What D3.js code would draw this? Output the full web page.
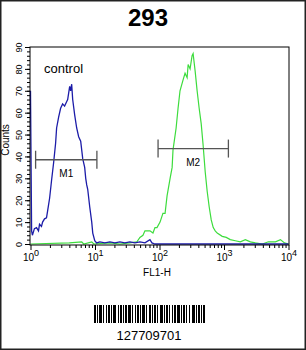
<!DOCTYPE html>
<html>
<head>
<meta charset="utf-8">
<script src="https://cdn.jsdelivr.net/npm/d3@7"></script>
<style>
  body { margin: 0; background: #fff; }
  svg { display: block; font-family: "Liberation Sans", Arial, sans-serif; }
</style>
</head>
<body>
<svg id="chart" width="306" height="350"></svg>
<script>
// FL1-H values and counts
const controlFl1 = [1.0, 1.04, 1.07, 1.15, 1.24, 1.33, 1.38, 1.48, 1.54, 1.65, 1.77, 1.84, 1.98, 2.12, 2.28, 2.45, 2.54, 2.73, 2.93, 3.15, 3.38, 3.63, 3.77, 4.05, 4.19, 4.35, 4.51, 4.84, 5.2, 5.58, 6.0, 6.45, 6.92, 7.18, 7.44, 7.71, 8.28, 8.9, 9.23, 9.91, 10.6, 11.9, 14.2, 17.0, 20.3, 24.3, 29.0, 34.7, 41.6, 49.7, 59.5, 71.1, 76.4, 85.1, 102, 146, 427, 2563, 10000];
const controlCounts = [70, 6, 4, 7, 7.5, 6, 9, 8, 10, 11.5, 12, 15, 21, 29, 37, 46, 53, 58, 62, 64, 63, 65, 66, 72, 70, 73, 66, 59, 53, 49, 47, 39, 35, 30, 27, 25, 17, 10, 5, 1.5, 0.5, 1, 0.5, 1, 0.5, 1, 0.5, 1, 0.5, 1, 0.5, 2, 0.5, 0, 0, 0, 0, 0, 0];

const sampleFl1 = [1.0, 4.0, 6.22, 6.68, 8.9, 9.56, 17.0, 24.3, 34.7, 44.7, 49.7, 55.4, 59.5, 66.2, 71.1, 79.2, 85.1, 91.4, 102, 113, 122, 131, 146, 157, 162, 181, 194, 208, 232, 249, 268, 278, 298, 320, 332, 357, 383, 412, 443, 475, 511, 549, 589, 634, 681, 731, 785, 939, 1084, 1251, 1497, 1791, 2143, 2563, 3065, 3939, 4883, 6281, 7505, 8660, 10000];
const sampleCounts = [0, 0.5, 1, 0, 1, 0, 0.5, 0, 0.5, 1, 3, 4, 6, 6, 6, 5, 7.5, 7.5, 10, 14, 14, 22, 30, 35, 43, 53, 62, 70, 75, 78, 76, 82, 80, 86, 87, 79, 70, 62, 55, 45, 33, 24, 17, 11, 7.5, 6, 5, 3.5, 3, 2, 1.5, 1, 2, 1, 0.5, 0, 1, 1, 2, 0.5, 0];

const yTicks = [0, 10, 20, 30, 40, 50, 60, 70, 80, 90];
const xTicks = [1, 10, 100, 1000, 10000];

// marker gates: [from, to, level]
const gateM1 = [1.2, 10.7, 38.5];
const gateM2 = [95, 1170, 43.6];

// barcode: alternating bar / gap widths in px
const barcodeWidths = [2,1,1,1,3,1,1,2,1,1,2,1,1,1,3,2,1,1,2,1,1,1,2,1,3,1,1,2,1,1,2,1,1,1,3,1,1,2,2,1,1,1,2,1,1,2,3,1,1,1,2,1,1,2,1,1,2,1,3,1,1,1,2,1,1,2,1,2,3,1,1,1,2,1,1,1,2];

const svg = d3.select('#chart');

svg.append('rect')
    .attr('x', 0.75).attr('y', 0.75)
    .attr('width', 304.5).attr('height', 348.5)
    .attr('fill', 'none')
    .attr('stroke', '#222')
    .attr('stroke-width', 1.5);

svg.append('text')
    .attr('x', 148).attr('y', 26)
    .attr('text-anchor', 'middle')
    .attr('font-size', 24)
    .attr('font-weight', 'bold')
    .text('293');

const plot = {left: 30, right: 289, top: 47, bottom: 245};

const x = d3.scaleLog().domain([1, 10000]).range([30.5, 288.5]);
const y = d3.scaleLinear().domain([0, 90]).range([244, 47]);

// x axis, major and minor ticks
const minorX = [];
for (let d = 1; d < 10000; d *= 10) {
  for (let k = 2; k < 10; k++) minorX.push(d * k);
}

svg.append('g')
    .attr('transform', 'translate(0,' + plot.bottom + ')')
    .call(d3.axisBottom(x).tickValues(minorX).tickSize(3).tickFormat(''))
    .call(g => g.select('.domain').remove());

const xAxis = svg.append('g')
    .attr('transform', 'translate(0,' + plot.bottom + ')')
    .call(d3.axisBottom(x).tickValues(xTicks).tickSize(5).tickFormat(''));
xAxis.select('.domain').remove();

xAxis.selectAll('.tick').append('text')
    .attr('fill', '#000')
    .attr('y', 16)
    .attr('font-size', 10)
    .attr('text-anchor', 'middle')
    .each(function(d) {
      const t = d3.select(this);
      t.append('tspan').text('10');
      t.append('tspan').attr('dy', -5).attr('font-size', 9).text(Math.round(Math.log10(d)));
    });

svg.append('text')
    .attr('x', 157).attr('y', 276)
    .attr('text-anchor', 'middle')
    .attr('font-size', 10)
    .text('FL1-H');

// y axis
const minorY = d3.range(0, 91, 2);
svg.append('g')
    .attr('transform', 'translate(' + plot.left + ',0)')
    .call(d3.axisLeft(y).tickValues(minorY).tickSize(3).tickFormat(''))
    .call(g => g.select('.domain').remove());

const yAxis = svg.append('g')
    .attr('transform', 'translate(' + plot.left + ',0)')
    .call(d3.axisLeft(y).tickValues(yTicks).tickSize(5).tickFormat(''));
yAxis.select('.domain').remove();

yAxis.selectAll('.tick').append('text')
    .attr('fill', '#000')
    .attr('font-size', 9)
    .attr('text-anchor', 'middle')
    .attr('transform', 'translate(-11,0) rotate(-90)')
    .attr('dy', '0.35em')
    .text(d => d);

svg.append('text')
    .attr('transform', 'translate(9,140) rotate(-90)')
    .attr('text-anchor', 'middle')
    .attr('font-size', 10)
    .text('Counts');

// histograms
const line = d3.line()
    .x(d => x(d[0]))
    .y(d => y(d[1]));

svg.append('path')
    .datum(sampleFl1.map((v, i) => [v, sampleCounts[i]]))
    .attr('d', line)
    .attr('fill', 'none')
    .attr('stroke', '#3ddc3d')
    .attr('stroke-width', 1.2);

svg.append('path')
    .datum(controlFl1.map((v, i) => [v, controlCounts[i]]))
    .attr('d', line)
    .attr('fill', 'none')
    .attr('stroke', '#1c1ca8')
    .attr('stroke-width', 1.3);

// plot frame
svg.append('rect')
    .attr('x', plot.left).attr('y', plot.top)
    .attr('width', plot.right - plot.left)
    .attr('height', plot.bottom - plot.top)
    .attr('fill', 'none')
    .attr('stroke', '#000')
    .attr('stroke-width', 1);

svg.append('text')
    .attr('x', 44).attr('y', 73)
    .attr('font-size', 13)
    .text('control');

// gates
function drawGate(gate, name) {
  const g = svg.append('g').attr('stroke', '#555').attr('stroke-width', 1.3);
  const yy = y(gate[2]);
  g.append('line').attr('x1', x(gate[0])).attr('x2', x(gate[1])).attr('y1', yy).attr('y2', yy);
  g.append('line').attr('x1', x(gate[0])).attr('x2', x(gate[0])).attr('y1', yy - 9).attr('y2', yy + 9);
  g.append('line').attr('x1', x(gate[1])).attr('x2', x(gate[1])).attr('y1', yy - 9).attr('y2', yy + 9);
  svg.append('text')
      .attr('x', (x(gate[0]) + x(gate[1])) / 2)
      .attr('y', yy + 17)
      .attr('text-anchor', 'middle')
      .attr('font-size', 10)
      .text(name);
}
drawGate(gateM1, 'M1');
drawGate(gateM2, 'M2');

// barcode
const bc = svg.append('g');
const total = d3.sum(barcodeWidths);
let bx = Math.round(149 - total / 2);
barcodeWidths.forEach((w, i) => {
  if (i % 2 === 0) {
    bc.append('rect')
        .attr('x', bx).attr('y', 305)
        .attr('width', w).attr('height', 18)
        .attr('fill', '#000');
  }
  bx += w;
});

svg.append('text')
    .attr('x', 149).attr('y', 340)
    .attr('text-anchor', 'middle')
    .attr('font-size', 13)
    .text('127709701');
</script>
</body>
</html>
